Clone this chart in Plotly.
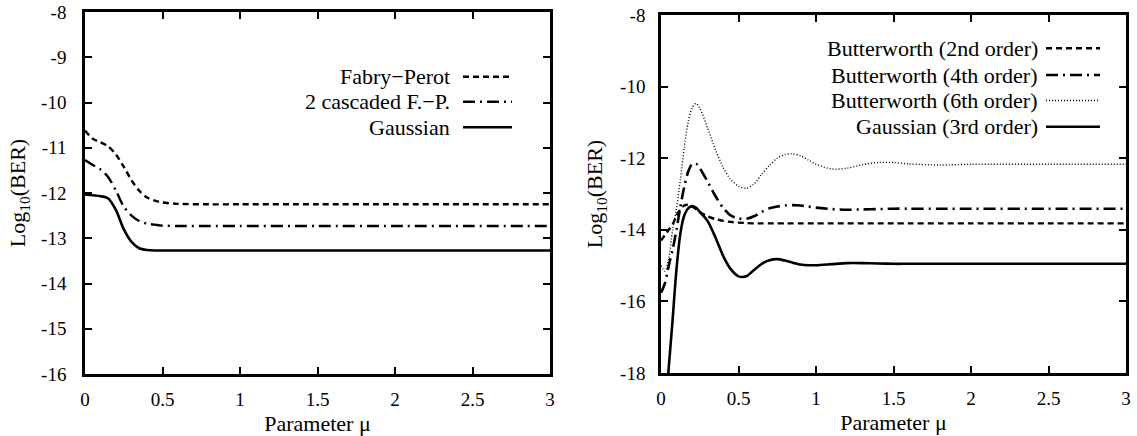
import plotly.graph_objects as go

# ---------------- data: left panel ----------------
mu_left = [0, 0.05, 0.1, 0.15, 0.2, 0.25, 0.3, 0.35, 0.4, 0.45, 0.5, 0.6, 0.8, 1.0, 1.5, 2.0, 2.5, 3.0]
fabry_perot = [-10.62, -10.80, -10.88, -10.97, -11.15, -11.42, -11.72, -11.95, -12.10, -12.17, -12.21,
               -12.24, -12.25, -12.25, -12.25, -12.25, -12.25, -12.25]
cascaded_fp = [-11.27, -11.38, -11.48, -11.65, -11.95, -12.30, -12.50, -12.62, -12.68, -12.70, -12.72,
               -12.73, -12.73, -12.73, -12.73, -12.73, -12.73, -12.73]
gaussian_left = [-12.03, -12.05, -12.07, -12.12, -12.38, -12.80, -13.08, -13.22, -13.26, -13.27, -13.27,
                 -13.27, -13.27, -13.27, -13.27, -13.27, -13.27, -13.27]
left_names = ["Fabry\u2212Perot", "2 cascaded F.\u2212P.", "Gaussian"]

# ---------------- data: right panel ----------------
mu_right = [0, 0.025, 0.05, 0.075, 0.1, 0.125, 0.15, 0.175, 0.2, 0.225, 0.25, 0.3, 0.35, 0.4, 0.45,
            0.5, 0.55, 0.6, 0.65, 0.7, 0.75, 0.8, 0.85, 0.9, 0.95, 1.0, 1.1, 1.2, 1.3, 1.4, 1.5,
            1.6, 1.8, 2.0, 2.5, 3.0]
butter2 = [-14.3, -14.15, -14.0, -13.85, -13.6, -13.42, -13.32, -13.3, -13.35, -13.42, -13.5, -13.62,
           -13.7, -13.75, -13.78, -13.8, -13.81, -13.82, -13.82, -13.82, -13.82, -13.82, -13.82, -13.82,
           -13.82, -13.82, -13.82, -13.82, -13.82, -13.82, -13.82, -13.82, -13.82, -13.82, -13.82, -13.82]
butter4 = [-15.76, -15.5, -15.0, -14.55, -14.0, -13.35, -12.8, -12.38, -12.17, -12.15, -12.28, -12.65,
           -13.05, -13.38, -13.6, -13.68, -13.69, -13.62, -13.5, -13.4, -13.35, -13.32, -13.31, -13.32,
           -13.35, -13.38, -13.42, -13.44, -13.43, -13.42, -13.41, -13.41, -13.41, -13.41, -13.41, -13.41]
butter6 = [-15.0, -15.15, -14.8, -14.0, -13.4, -12.6, -11.7, -11.0, -10.6, -10.47, -10.6, -11.15,
           -11.75, -12.25, -12.6, -12.78, -12.84, -12.72, -12.45, -12.2, -12.0, -11.9, -11.88, -11.93,
           -12.05, -12.17, -12.3, -12.28, -12.18, -12.12, -12.12, -12.16, -12.19, -12.17, -12.17, -12.17]
gauss3 = [-20.5, -19.2, -17.85, -16.5, -15.1, -14.1, -13.6, -13.4, -13.34, -13.38, -13.5, -13.75,
          -14.2, -14.72, -15.1, -15.3, -15.3, -15.12, -14.95, -14.85, -14.82, -14.86, -14.92, -14.97,
          -14.99, -14.99, -14.96, -14.93, -14.93, -14.94, -14.95, -14.95, -14.95, -14.95, -14.95, -14.95]
right_names = ["Butterworth (2nd order)", "Butterworth (4th order)",
               "Butterworth (6th order)", "Gaussian (3rd order)"]

# tick labels
x_ticks = [0, 0.5, 1, 1.5, 2, 2.5, 3]
x_ticktext = ["0", "0.5", "1", "1.5", "2", "2.5", "3"]
yl_ticks = [-8, -9, -10, -11, -12, -13, -14, -15, -16]
yl_ticktext = ["-8", "-9", "-10", "-11", "-12", "-13", "-14", "-15", "-16"]
yr_ticks = [-8, -10, -12, -14, -16, -18]
yr_ticktext = ["-8", "-10", "-12", "-14", "-16", "-18"]

FONT = "Liberation Serif"
DASHED = "6px,4px"
DASHDOT = "12px,5px,2px,5px"
DOTTED = "1px,2px"

styles_left = [(DASHED, 2.4), (DASHDOT, 2.4), ("solid", 2.6)]
styles_right = [(DASHED, 2.4), (DASHDOT, 2.6), (DOTTED, 1.4), ("solid", 2.6)]

fig = go.Figure()
for ys, name, (dash, w) in zip([fabry_perot, cascaded_fp, gaussian_left], left_names, styles_left):
    fig.add_trace(go.Scatter(x=mu_left, y=ys, mode="lines", name=name, xaxis="x", yaxis="y",
                             line=dict(color="black", width=w, dash=dash, shape="spline", smoothing=0.8),
                             showlegend=False))
for ys, name, (dash, w) in zip([butter2, butter4, butter6, gauss3], right_names, styles_right):
    fig.add_trace(go.Scatter(x=mu_right, y=ys, mode="lines", name=name, xaxis="x2", yaxis="y2",
                             line=dict(color="black", width=w, dash=dash, shape="spline", smoothing=0.8),
                             showlegend=False))

W, H = 1137, 436
axis_common = dict(showline=True, linewidth=2.5, linecolor="black", mirror="ticks",
                   ticks="inside", ticklen=7, tickwidth=2, tickcolor="black",
                   showgrid=False, zeroline=False, automargin=False,
                   tickfont=dict(family=FONT, size=19, color="black"))
title_font = dict(family=FONT, size=22, color="black")

fig.update_layout(
    width=W, height=H,
    margin=dict(l=0, r=0, t=0, b=0),
    paper_bgcolor="white", plot_bgcolor="white",
    font=dict(family=FONT, color="black"),
    xaxis=dict(domain=[85 / W, 550 / W], range=[0, 3], anchor="y",
               tickvals=x_ticks, ticktext=x_ticktext, ticklabelstandoff=6,
               title=dict(text="Parameter \u03bc", font=title_font, standoff=8),
               **axis_common),
    yaxis=dict(domain=[1 - 374 / H, 1 - 12 / H], range=[-16, -8], anchor="x",
               tickvals=yl_ticks, ticktext=yl_ticktext, ticklabelstandoff=12,
               title=dict(text="Log<sub>10</sub>(BER)", font=title_font, standoff=10),
               **axis_common),
    xaxis2=dict(domain=[661 / W, 1126 / W], range=[0, 3], anchor="y2",
                tickvals=x_ticks, ticktext=x_ticktext, ticklabelstandoff=6,
                title=dict(text="Parameter \u03bc", font=title_font, standoff=8),
                **axis_common),
    yaxis2=dict(domain=[1 - 373 / H, 1 - 15 / H], range=[-18, -8], anchor="x2",
                tickvals=yr_ticks, ticktext=yr_ticktext, ticklabelstandoff=9,
                title=dict(text="Log<sub>10</sub>(BER)", font=title_font, standoff=12),
                **axis_common),
)

# manual gnuplot-style legends (text right-aligned, sample line on the right)
shapes = []
annotations = []
left_rows = [76.7, 101.7, 127.3]
for name, (dash, w), yp in zip(left_names, styles_left, left_rows):
    annotations.append(dict(x=452 / W, y=1 - yp / H, xref="paper", yref="paper", text=name,
                            showarrow=False, xanchor="right", yanchor="middle",
                            font=dict(family=FONT, size=22, color="black")))
    shapes.append(dict(type="line", xref="paper", yref="paper", x0=463 / W, x1=512 / W,
                       y0=1 - yp / H, y1=1 - yp / H, line=dict(color="black", width=w, dash=dash)))
right_rows = [48.3, 75.0, 100.5, 126.7]
for name, (dash, w), yp in zip(right_names, styles_right, right_rows):
    annotations.append(dict(x=1040 / W, y=1 - yp / H, xref="paper", yref="paper", text=name,
                            showarrow=False, xanchor="right", yanchor="middle",
                            font=dict(family=FONT, size=22, color="black")))
    shapes.append(dict(type="line", xref="paper", yref="paper", x0=1046 / W, x1=1100 / W,
                       y0=1 - yp / H, y1=1 - yp / H, line=dict(color="black", width=w, dash=dash)))
fig.update_layout(shapes=shapes, annotations=annotations)

fig.write_html("out.html", config={"displayModeBar": False},
               post_script="document.body.style.margin='0';document.body.style.overflow='hidden';")
